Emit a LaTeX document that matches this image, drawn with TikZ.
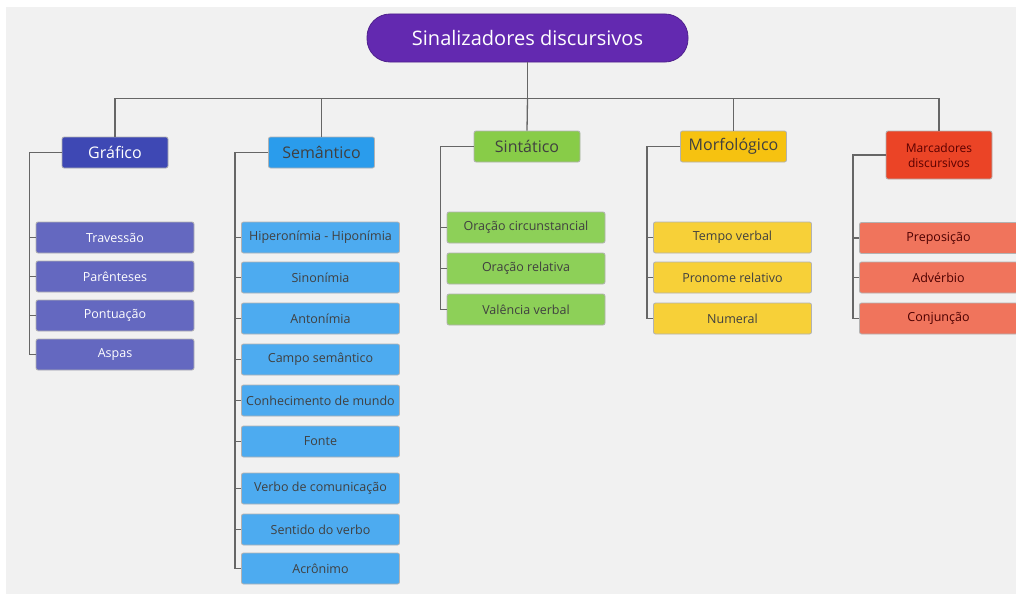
\documentclass[tikz,border=0pt]{standalone}
\usepackage{fontspec}
\setmainfont{Open Sans}
\usepackage{xcolor}
\usetikzlibrary{calc,positioning}
\definecolor{fundo}{HTML}{F1F1F1}
\definecolor{roxo}{HTML}{6329B0}
\definecolor{anil}{HTML}{3E48B4}
\definecolor{anilclaro}{HTML}{6468C0}
\definecolor{azul}{HTML}{2A9CEC}
\definecolor{azulclaro}{HTML}{4DABF0}
\definecolor{verde}{HTML}{88CC48}
\definecolor{verdeclaro}{HTML}{8DD058}
\definecolor{amarelo}{HTML}{F6C210}
\definecolor{amareloclaro}{HTML}{F7D038}
\definecolor{vermelho}{HTML}{EB4426}
\definecolor{vermelhoclaro}{HTML}{F0745C}
\tikzset{
  caixa/.style={rectangle,rounded corners=2pt,draw=black!30,line width=0.8pt,inner sep=0pt,
    minimum width=158pt,minimum height=31pt,font=\fontsize{12.5}{15}\selectfont,text=black!75},
  categoria/.style={caixa,minimum width=106pt,font=\fontsize{16}{19}\selectfont},
  raiz/.style={rectangle,rounded corners=23pt,fill=roxo,draw=roxo!80!black,line width=0.8pt,
    minimum width=321pt,minimum height=48pt,text=white,font=\fontsize{20}{24}\selectfont},
  ligacao/.style={draw=black!60,line width=1.3pt}
}

\begin{document}
\begin{tikzpicture}[x=1pt,y=-1pt]
\useasboundingbox (0,0) rectangle (1016,594);
\fill[white] (0,0) rectangle (1016,594);
\fill[fundo] (6,7) rectangle (1016,594);

% raiz e categorias
\node[raiz] (raiz) at (527.5,38) {Sinalizadores discursivos};
\node[categoria,fill=anil,text=white] (graf) at (115,152.5) {Gráfico};
\node[categoria,fill=azul] (sem) at (321.5,152.5) {Semântico};
\node[categoria,fill=verde] (sint) at (527,146.5) {Sintático};
\node[categoria,fill=amarelo] (morf) at (733.5,146.5) {Morfológico};
\node[categoria,fill=vermelho,minimum height=48pt,align=center,text=red!35!black,
  font=\fontsize{12}{15}\selectfont] (marc) at (939,155) {Marcadores\\discursivos};

\draw[ligacao] (raiz.south) -- ++(0,36) coordinate (hub);
\draw[ligacao] (hub) -| (graf.north);
\draw[ligacao] (hub) -| (sem.north);
\draw[ligacao] (hub) -- (sint.north);
\draw[ligacao] (hub) -| (morf.north);
\draw[ligacao] (hub) -| (marc.north);

% Gráfico
\node[caixa,fill=anilclaro,text=white] (g1) at (115,237.5) {Travessão};
\node[caixa,fill=anilclaro,text=white] (g2) at (115,276.5) {Parênteses};
\node[caixa,fill=anilclaro,text=white] (g3) at (115,315.5) {Pontuação};
\node[caixa,fill=anilclaro,text=white] (g4) at (115,354.5) {Aspas};
\draw[ligacao] (graf.west) -| ($(g4.west)+(-6,0)$) -- (g4.west);
\foreach \n in {g1,g2,g3} \draw[ligacao] (\n.west) -- ++(-6,0);

% Semântico
\node[caixa,fill=azulclaro] (s1) at (320.5,237.5) {Hiperonímia - Hiponímia};
\node[caixa,fill=azulclaro] (s2) at (320.5,277.5) {Sinonímia};
\node[caixa,fill=azulclaro] (s3) at (320.5,318.5) {Antonímia};
\node[caixa,fill=azulclaro] (s4) at (320.5,359.5) {Campo semântico};
\node[caixa,fill=azulclaro] (s5) at (320.5,400.5) {Conhecimento de mundo};
\node[caixa,fill=azulclaro] (s6) at (320.5,441.5) {Fonte};
\node[caixa,fill=azulclaro] (s7) at (320.5,488.5) {Verbo de comunicação};
\node[caixa,fill=azulclaro] (s8) at (320.5,529.5) {Sentido do verbo};
\node[caixa,fill=azulclaro] (s9) at (320.5,568.5) {Acrônimo};
\draw[ligacao] (sem.west) -| ($(s9.west)+(-6,0)$) -- (s9.west);
\foreach \n in {s1,s2,s3,s4,s5,s6,s7,s8} \draw[ligacao] (\n.west) -- ++(-6,0);

% Sintático
\node[caixa,fill=verdeclaro] (t1) at (526,227.5) {Oração circunstancial};
\node[caixa,fill=verdeclaro] (t2) at (526,268.5) {Oração relativa};
\node[caixa,fill=verdeclaro] (t3) at (526,309.5) {Valência verbal};
\draw[ligacao] (sint.west) -| ($(t3.west)+(-6,0)$) -- (t3.west);
\foreach \n in {t1,t2} \draw[ligacao] (\n.west) -- ++(-6,0);

% Morfológico
\node[caixa,fill=amareloclaro] (m1) at (732.5,237.5) {Tempo verbal};
\node[caixa,fill=amareloclaro] (m2) at (732.5,277.5) {Pronome relativo};
\node[caixa,fill=amareloclaro] (m3) at (732.5,318.5) {Numeral};
\draw[ligacao] (morf.west) -| ($(m3.west)+(-6,0)$) -- (m3.west);
\foreach \n in {m1,m2} \draw[ligacao] (\n.west) -- ++(-6,0);

% Marcadores discursivos
\node[caixa,fill=vermelhoclaro,text=red!30!black] (d1) at (938.5,238) {Preposição};
\node[caixa,fill=vermelhoclaro,text=red!30!black] (d2) at (938.5,277.5) {Advérbio};
\node[caixa,fill=vermelhoclaro,text=red!30!black] (d3) at (938.5,318.5) {Conjunção};
\draw[ligacao] (marc.west) -| ($(d3.west)+(-6,0)$) -- (d3.west);
\foreach \n in {d1,d2} \draw[ligacao] (\n.west) -- ++(-6,0);
\end{tikzpicture}
\end{document}
